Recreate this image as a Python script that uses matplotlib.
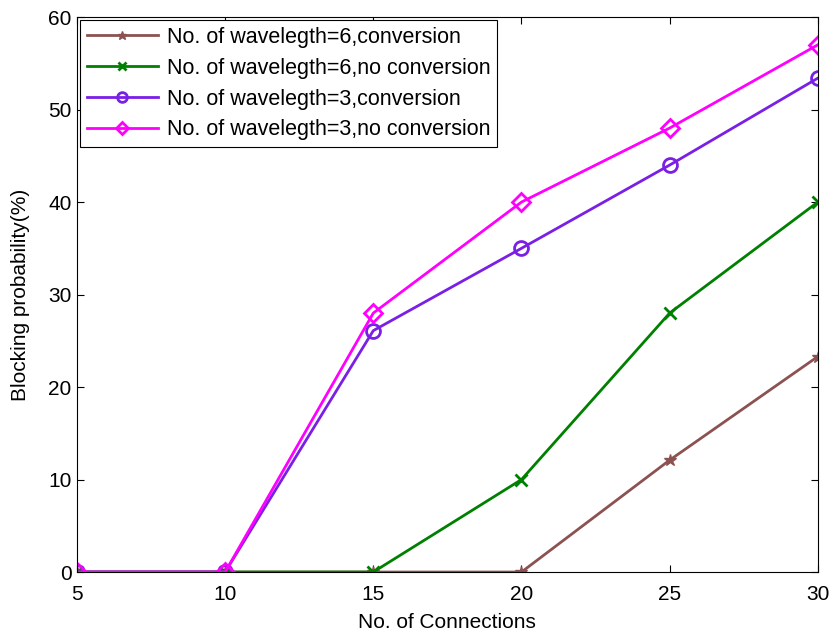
import matplotlib
matplotlib.use("Agg")
import matplotlib.pyplot as plt

plt.rcParams['font.family'] = ['Liberation Sans', 'DejaVu Sans']

connections = [5, 10, 15, 20, 25, 30]
w6_conv = [0, 0, 0, 0, 12.1, 23.3]
w6_noconv = [0, 0, 0, 10, 28, 40]
w3_conv = [0, 0, 26.1, 35, 44, 53.4]
w3_noconv = [0, 0, 28, 40, 48, 57]
labels = ['No. of wavelegth=6,conversion',
          'No. of wavelegth=6,no conversion',
          'No. of wavelegth=3,conversion',
          'No. of wavelegth=3,no conversion']

fig = plt.figure(figsize=(8.32, 6.32), dpi=100)
ax = fig.add_axes([0.0925, 0.0949, 0.8905, 0.8781])

ax.plot(connections, w6_conv, color='#8c5252', marker='*', markersize=9, lw=2, label=labels[0])
ax.plot(connections, w6_noconv, color='#008000', marker='x', markersize=8, mew=2, lw=2, label=labels[1])
ax.plot(connections, w3_conv, color='#7a1fe6', marker='o', markersize=10, mfc='none', mew=2, lw=2, label=labels[2])
ax.plot(connections, w3_noconv, color='#ff00ff', marker='D', markersize=9, mfc='none', mew=2, lw=2, label=labels[3])

ax.set_xlim(5, 30)
ax.set_ylim(0, 60)
ax.set_xticks(connections)
ax.set_yticks([0, 10, 20, 30, 40, 50, 60])
ax.tick_params(direction='in', top=True, right=True, labelsize=15, length=5, pad=4)
ax.tick_params(axis='x', pad=9)
ax.set_xlabel('No. of Connections', fontsize=15, labelpad=7)
ax.set_ylabel('Blocking probability(%)', fontsize=15, labelpad=13)

leg = ax.legend(loc='upper left', fontsize=15.5, handlelength=3.3, handletextpad=0.45,
                labelspacing=0.46, borderpad=0.3, markerscale=0.7, fancybox=False,
                edgecolor='black', framealpha=1, borderaxespad=0.15)
leg.get_frame().set_linewidth(0.8)

fig.savefig('out.png', dpi=100)
